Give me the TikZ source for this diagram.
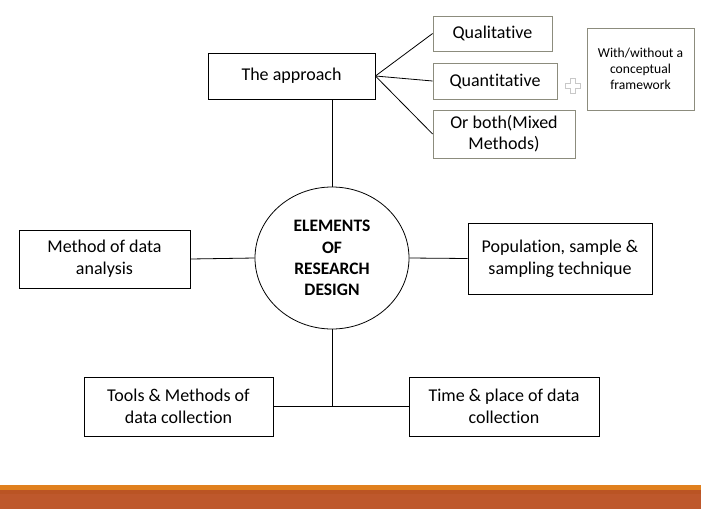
\documentclass[tikz,border=0pt]{standalone}
\usepackage{fontspec}
\setmainfont[Ligatures=NoCommon]{Carlito}
\usetikzlibrary{shapes.geometric}
\definecolor{bandA}{RGB}{224,128,30}
\definecolor{bandB}{RGB}{190,88,44}
\definecolor{bandC}{RGB}{186,84,36}
\definecolor{gborder}{RGB}{140,140,125}
\definecolor{plusc}{RGB}{200,200,200}
\begin{document}
\begin{tikzpicture}[x=1pt,y=-1pt,
  box/.style={draw=black,line width=0.8pt,fill=white,align=center,inner sep=0pt,font=\fontsize{18}{22}\selectfont},
  gbox/.style={draw=gborder,line width=0.8pt,fill=white,align=center,inner sep=0pt,font=\fontsize{18}{21}\selectfont},
  conn/.style={draw=black,line width=0.8pt}]
\useasboundingbox (0,0) rectangle (701,509);
\fill[white] (0,0) rectangle (701,509);
% bottom bands
\fill[bandA] (0,485) rectangle (701,490);
\fill[bandB] (0,490) rectangle (701,509);
\fill[bandC] (0,490) rectangle (701,494);

% nodes
\node[box,minimum width=167pt,minimum height=46pt] (app) at (291.5,76) {The approach};
\node[gbox,minimum width=119pt,minimum height=35pt] (qual) at (492.5,33.5) {Qualitative};
\node[gbox,minimum width=124pt,minimum height=36pt] (quan) at (495,81) {Quantitative};
\node[gbox,minimum width=142pt,minimum height=48pt] (both) at (504,134) {Or both(Mixed\\Methods)};
\node[gbox,minimum width=107pt,minimum height=82pt,font=\fontsize{13.6}{15.7}\selectfont] (with) at (640.5,69) {With/without a\\conceptual\\framework};
\node[draw=black,line width=0.8pt,ellipse,minimum width=154pt,minimum height=142pt,inner sep=0pt,align=center,font=\bfseries\fontsize{17.5}{21.3}\selectfont] (ctr) at (332,258) {ELEMENTS\\OF\\RESEARCH\\DESIGN};
\node[box,minimum width=171pt,minimum height=58pt] (mda) at (104.5,259) {Method of data\\analysis};
\node[box,minimum width=184pt,minimum height=71pt] (pop) at (560,258.5) {Population, sample \&\\sampling technique};
\node[box,minimum width=189pt,minimum height=59pt] (tools) at (178.5,406.5) {Tools \& Methods of\\data collection};
\node[box,minimum width=190pt,minimum height=59pt] (time) at (504,406.5) {Time \& place of data\\collection};

% plus sign
\draw[plusc,line width=0.8pt] (570,78)--(575,78)--(575,83)--(580,83)--(580,88)--(575,88)--(575,93)--(570,93)--(570,88)--(565,88)--(565,83)--(570,83)--cycle;

% connectors
\coordinate (ae) at (app.east);
\draw[conn] (ae) -- (qual.west);
\draw[conn] (ae) -- (quan.west);
\draw[conn] (ae) -- (both.west);
\draw[conn] (app.south -| ctr.north) -- (ctr.north);
\draw[conn] (mda.east) -- (ctr.west);
\draw[conn] (ctr.east) -- (pop.west);
\coordinate (j) at (ctr.south |- tools.east);
\draw[conn] (ctr.south) -- (j);
\draw[conn] (tools.east) -- (time.west);
\end{tikzpicture}
\end{document}
